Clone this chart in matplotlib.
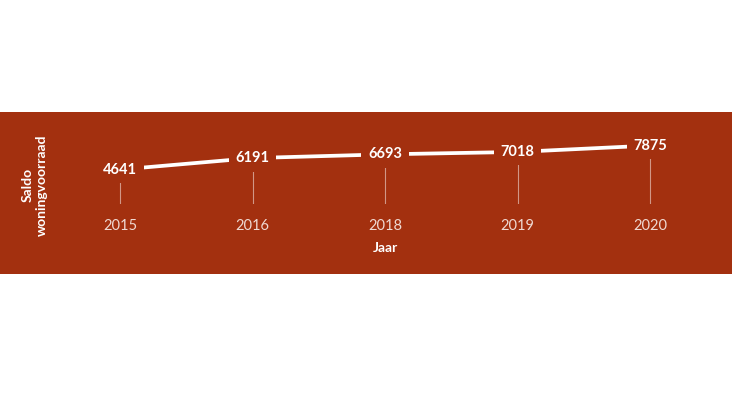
import matplotlib
matplotlib.use("Agg")
import matplotlib.pyplot as plt
from matplotlib.patches import Rectangle

plt.rcParams['font.family'] = ['Lato', 'DejaVu Sans']

years = ["2015", "2016", "2018", "2019", "2020"]
values = [4641, 6191, 6693, 7018, 7875]
x_label = "Jaar"
y_label = "Saldo\nwoningvoorraad"

BAND = "#A3300F"
W, H = 732, 395

fig = plt.figure(figsize=(W / 100, H / 100), dpi=100)
fig.patch.set_facecolor("white")
# band background
fig.patches.append(Rectangle((0, (H - 274) / H), 1, (274 - 112) / H,
                             transform=fig.transFigure, facecolor=BAND,
                             edgecolor="none", zorder=-10))

ax = fig.add_axes([53.75 / W, (H - 204) / H, (716.25 - 53.75) / W, (204 - 129.8) / H])
ax.set_zorder(1)
ax.set_facecolor("none")
xs = list(range(len(years)))
ax.set_xlim(-0.5, len(years) - 0.5)
ax.set_ylim(0, 10000)

ax.plot(xs, values, color="white", lw=2.7, solid_capstyle="butt", zorder=2)
ax.vlines(xs, 0, values, color="white", lw=0.8, alpha=0.5, zorder=1)

for x, v in zip(xs, values):
    ax.text(x, v, str(v), ha="center", va="center", color="white",
            fontsize=10.5, fontweight="bold", zorder=3,
            bbox=dict(boxstyle="square,pad=0.45", facecolor=BAND, edgecolor="none"))

for s in ax.spines.values():
    s.set_visible(False)
ax.set_yticks([])
ax.set_xticks(xs)
ax.set_xticklabels(years, color="#EFD9D2", fontsize=10.5)
ax.tick_params(axis="x", length=0, pad=11)

fig.text(385 / W, (H - 248) / H, x_label, ha="center", va="center",
         color="white", fontsize=10, fontweight="bold")
fig.text(35 / W, (H - 185) / H, y_label, ha="center", va="center",
         rotation=90, color="white", fontsize=10, fontweight="bold",
         multialignment="center", linespacing=1.2)

fig.savefig("out.png", dpi=100, facecolor="white")
